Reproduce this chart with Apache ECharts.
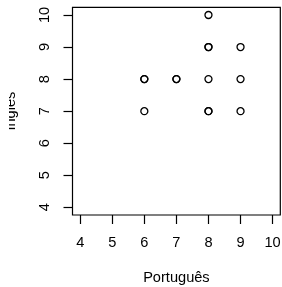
<!DOCTYPE html>
<html>
<head>
<meta charset="utf-8">
<script src="https://cdn.jsdelivr.net/npm/echarts@6/dist/echarts.min.js"></script>
<style>
html,body{margin:0;padding:0;background:#fff;}
#c{width:282px;height:287px;}
</style>
</head>
<body>
<div id="c"></div>
<script>
// Data (duplicates are overplotted points)
const portugues = [6, 6, 6, 7, 7, 8, 8, 8, 8, 8, 8, 9, 9, 9];
const ingles    = [8, 8, 7, 8, 8, 10, 9, 9, 8, 7, 7, 9, 8, 7];
const xTicks = [4, 5, 6, 7, 8, 9, 10];
const yTicks = [4, 5, 6, 7, 8, 9, 10];
const xName = 'Português';
const yName = 'Inglês';

const points = portugues.map((x, i) => [x, ingles[i]]);
const font = '"Liberation Sans", Arial, sans-serif';
const fs = 14.6;

const chart = echarts.init(document.getElementById('c'), null, {renderer: 'canvas'});
chart.setOption({
  animation: false,
  backgroundColor: '#fff',
  grid: {
    left: 72.5, right: 1.7, top: 7.3, bottom: 72,
    containLabel: false, outerBoundsMode: 'none',
    show: true, borderColor: '#000', borderWidth: 1.2, backgroundColor: 'transparent'
  },
  xAxis: {
    type: 'value', min: 3.76, max: 10.24,
    name: xName, nameLocation: 'middle', nameGap: 55,
    nameTextStyle: {color: '#000', fontSize: fs, fontFamily: font},
    axisLine: {show: false},
    splitLine: {show: false},
    axisTick: {show: true, inside: false, length: 9, customValues: xTicks, lineStyle: {color: '#000', width: 1.2}},
    axisLabel: {customValues: xTicks, color: '#000', fontSize: fs, fontFamily: font, margin: 20.5}
  },
  yAxis: {
    type: 'value', min: 3.76, max: 10.24,
    name: yName, nameLocation: 'middle', nameGap: 54, nameRotate: 90,
    nameTextStyle: {color: '#000', fontSize: fs, fontFamily: font},
    axisLine: {show: false},
    splitLine: {show: false},
    axisTick: {show: true, inside: false, length: 9, customValues: yTicks, lineStyle: {color: '#000', width: 1.2}},
    axisLabel: {customValues: yTicks, color: '#000', fontSize: fs, fontFamily: font, margin: 20, rotate: 90}
  },
  graphic: [{
    type: 'rect', left: 0, top: 80, z: 100,
    shape: {width: 9, height: 60},
    style: {fill: '#fff'}
  }],
  series: [{
    type: 'scatter',
    data: points,
    symbol: 'circle',
    symbolSize: 7,
    itemStyle: {color: 'rgba(0,0,0,0)', borderColor: '#000', borderWidth: 1.3, opacity: 1},
    emphasis: {disabled: true}
  }]
});
</script>
</body>
</html>
